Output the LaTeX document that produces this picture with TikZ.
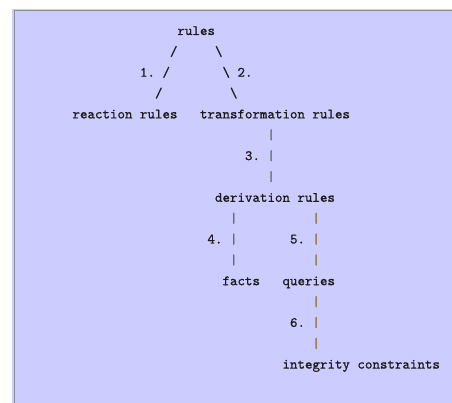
\documentclass[tikz,border=0pt]{standalone}
\usepackage{fontspec}
\newfontfamily\mymono{lmmono10-regular.otf}[FakeBold=0.9]
\definecolor{bgl}{RGB}{204,204,255}
\definecolor{brd}{RGB}{140,140,158}
\definecolor{ink}{RGB}{28,28,28}
\definecolor{pipeA}{RGB}{95,112,100}
\definecolor{pipeB}{RGB}{140,112,40}
\begin{document}
\begin{tikzpicture}[x=1pt,y=1pt,
  txt/.style={anchor=base west, inner sep=0pt, outer sep=0pt, text=ink,
              font=\fontsize{14.28}{16}\selectfont\mymono},
  pa/.style={txt, text=pipeA},
  pb/.style={txt, text=pipeB}]
\useasboundingbox (0,0) rectangle (452,-403);
\fill[bgl] (12,-9) rectangle (452,-403);
\draw[brd, line width=1.5pt] (14.5,-403) -- (14.5,-10.5) -- (452,-10.5);
\begin{scope}[shift={(72.5,-35)}, x=7.5pt, y=-20.85pt]
  % row 0
  \node[txt] (rules) at (14,0) {rules};
  % row 1
  \node[txt] (s1) at (13,1) {/};
  \node[txt] (b1) at (19,1) {\textbackslash};
  % row 2
  \node[txt] (l1) at (9,2) {1.};
  \node[txt] (s2) at (12,2) {/};
  \node[txt] (b2) at (20,2) {\textbackslash};
  \node[txt] (l2) at (22,2) {2.};
  % row 3
  \node[txt] (s3) at (11,3) {/};
  \node[txt] (b3) at (21,3) {\textbackslash};
  % row 4
  \node[txt] (reaction) at (0,4) {reaction rules};
  \node[txt] (transf) at (17,4) {transformation rules};
  % rows 5-7
  \node[pa] (p5) at (26,5) {|};
  \node[txt] (l3) at (23,6) {3.};
  \node[pa] (p6) at (26,6) {|};
  \node[pa] (p7) at (26,7) {|};
  % row 8
  \node[txt] (deriv) at (19,8) {derivation rules};
  % rows 9-11
  \node[pa] (p9a) at (21,9) {|};
  \node[pb] (p9b) at (32,9) {|};
  \node[txt] (l4) at (18,10) {4.};
  \node[pa] (p10a) at (21,10) {|};
  \node[txt] (l5) at (29,10) {5.};
  \node[pb] (p10b) at (32,10) {|};
  \node[pa] (p11a) at (21,11) {|};
  \node[pb] (p11b) at (32,11) {|};
  % row 12
  \node[txt] (facts) at (20,12) {facts};
  \node[txt] (queries) at (28,12) {queries};
  % rows 13-15
  \node[pb] (p13) at (32,13) {|};
  \node[txt] (l6) at (29,14) {6.};
  \node[pb] (p14) at (32,14) {|};
  \node[pb] (p15) at (32,15) {|};
  % row 16
  \node[txt] (integ) at (28,16) {integrity constraints};
\end{scope}
\end{tikzpicture}
\end{document}
